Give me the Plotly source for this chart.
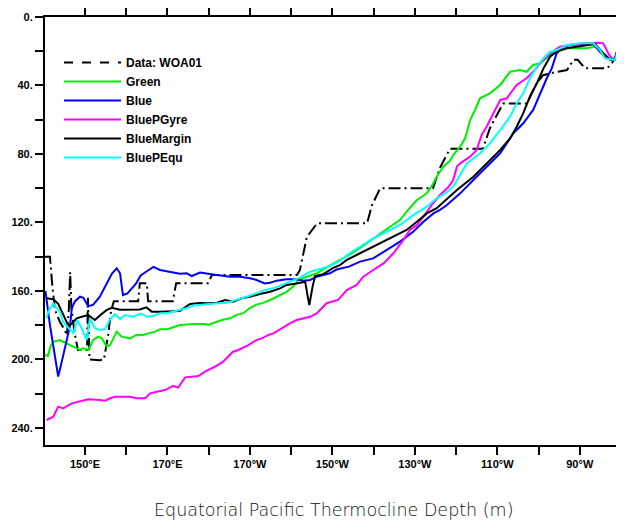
import plotly.graph_objects as go

# ---------------- data (longitude in degrees east, depth in m) ----------------
woa_lon = [140.3, 141.5, 142.0, 142.7, 143.9, 145.1, 145.6, 146.1, 146.4, 146.7, 147.5, 148.3,
           150.5, 150.7, 151.1, 153.6, 154.6, 155.6, 156.3, 157.0, 162.9, 163.3, 165.0, 165.3,
           171.3, 172.1, 179.8, 180.8, 201.4, 202.1, 203.8, 206.3, 218.4, 219.6, 221.6, 234.4,
           236.1, 238.5, 246.5, 248.2, 251.4, 257.2, 259.2, 261.1, 264.5, 266.9, 268.5, 269.5,
           271.3, 276.6, 277.8, 279.3]
woa_dep = [140, 140, 155, 171, 178, 183, 186, 170, 149, 170, 185, 194.5,
           194.5, 164, 200, 200.5, 200, 186, 172, 166, 166, 155.5, 155.5, 166,
           166, 155.5, 155.5, 150.7, 150.7, 148, 128.5, 120.5, 120.5, 110, 100, 100,
           88, 77, 77, 65, 50.5, 50.5, 40, 34, 32, 31, 25, 25,
           30, 30, 27, 20.6]

green_lon = [140.3, 141.0, 141.7, 142.3, 143.9, 145.6, 147.2, 148.8, 149.6, 150.8, 152.0, 153.2,
             154.1, 155.3, 156.1, 157.7, 158.9, 160.9, 162.5, 164.1, 165.4, 167.0, 168.2, 170.2,
             173.0, 176.3, 179.1, 179.9, 182.0, 183.2, 185.2, 186.8, 188.4, 190.0, 191.6, 193.2,
             194.9, 196.5, 198.9, 200.5, 201.7, 203.8, 206.2, 208.6, 211.0, 213.5, 215.1, 218.3,
             221.6, 224.0, 226.4, 228.0, 230.5, 232.9, 234.5, 235.3, 236.9, 238.5, 239.3, 241.0,
             242.2, 243.4, 244.6, 245.8, 248.2, 250.7, 253.1, 255.5, 257.1, 258.7, 260.4, 262.8,
             264.4, 266.8, 271.7, 273.7, 275.7, 277.3, 278.5, 279.4]
green_dep = [197.4, 198.0, 192.0, 189.7, 188.7, 190.6, 192.6, 194.5, 193.5, 194.5, 188.7, 186.7,
             187.7, 192.6, 191.6, 183.8, 186.7, 187.7, 185.7, 185.7, 184.8, 183.8, 182.4, 182.2,
             179.9, 179.3, 179.3, 179.9, 178.0, 177.0, 176.0, 174.0, 173.0, 170.0, 168.0, 167.0,
             165.3, 163.4, 160.5, 157.5, 153.6, 151.7, 149.7, 146.3, 142.9, 139.5, 137.5, 132.2,
             126.3, 122.5, 118.6, 113.7, 106.9, 103.0, 97.1, 93.3, 87.4, 84.0, 80.6, 75.8,
             70.9, 60.2, 54.3, 47.5, 44.6, 39.7, 32.0, 31.0, 32.0, 28.0, 27.0, 22.2,
             19.3, 18.3, 18.3, 17.3, 21.2, 25.1, 25.1, 16.4]

blue_lon = [140.4, 141.5, 142.7, 143.5, 144.4, 145.6, 146.4, 146.8, 147.6, 148.8, 149.6, 150.8,
            152.0, 153.6, 155.3, 156.5, 157.7, 158.5, 159.2, 160.3, 162.4, 163.5, 165.0, 166.6,
            168.2, 170.2, 173.0, 174.7, 175.9, 177.9, 179.9, 182.0, 185.2, 187.6, 190.0, 191.6,
            193.6, 194.9, 196.5, 198.9, 201.3, 202.9, 204.6, 206.2, 209.4, 211.0, 214.0, 216.7,
            219.9, 223.2, 226.4, 229.6, 232.1, 234.5, 236.1, 237.7, 241.0, 244.2, 247.4, 250.7,
            253.9, 256.3, 258.7, 260.4, 262.0, 263.2, 264.4, 266.0, 267.6, 271.7, 273.3, 274.9,
            276.5, 278.5, 279.4]
blue_dep = [160.0, 180.0, 198.0, 210.0, 201.0, 188.0, 180.0, 170.0, 166.0, 163.4, 164.0, 169.0,
            168.0, 163.4, 155.0, 150.0, 146.8, 149.7, 162.4, 161.4, 155.6, 151.0, 148.5, 146.0,
            147.8, 148.8, 150.0, 149.7, 151.3, 149.3, 150.1, 150.7, 151.7, 151.7, 152.6, 153.6,
            155.6, 155.2, 154.0, 153.2, 153.2, 154.0, 153.6, 151.7, 149.7, 147.5, 145.8, 142.9,
            141.0, 136.1, 131.2, 125.4, 119.6, 114.7, 112.7, 110.0, 103.0, 95.2, 87.4, 79.6,
            67.9, 62.1, 54.3, 44.6, 35.8, 30.0, 21.2, 17.3, 16.4, 15.8, 15.8, 20.3,
            24.1, 25.1, 17.3]

gyre_lon = [140.7, 142.3, 143.5, 144.7, 146.8, 148.8, 150.8, 153.6, 154.9, 156.1, 157.3, 160.9,
            162.5, 164.6, 165.8, 167.4, 169.4, 171.0, 171.4, 172.6, 174.3, 177.5, 179.1, 181.5,
            183.5, 185.9, 187.2, 189.6, 191.6, 192.9, 194.5, 195.7, 197.7, 199.7, 201.3, 202.9,
            204.6, 206.2, 207.0, 208.6, 211.4, 213.5, 215.9, 217.5, 219.9, 222.4, 224.8, 227.2,
            228.8, 230.5, 232.1, 234.1, 236.1, 238.1, 239.3, 240.2, 241.0, 243.4, 245.0, 246.2,
            247.4, 249.0, 250.7, 252.3, 254.7, 257.1, 259.1, 260.7, 262.8, 265.2, 267.6, 270.9,
            274.9, 275.7, 276.9, 277.7, 278.5, 279.4]
gyre_dep = [235.4, 233.5, 227.6, 228.6, 225.7, 224.7, 223.3, 223.7, 224.1, 222.7, 221.8, 221.8,
            222.7, 222.7, 219.8, 218.9, 217.9, 215.9, 215.5, 216.5, 210.5, 209.7, 207.2, 204.3,
            201.3, 195.5, 194.5, 191.6, 188.7, 187.7, 185.7, 184.8, 181.8, 178.9, 177.0, 176.0,
            175.1, 173.1, 171.1, 167.2, 165.3, 159.5, 156.5, 151.7, 147.8, 143.9, 138.0, 130.3,
            124.4, 121.5, 116.6, 109.8, 104.0, 99.5, 95.2, 87.4, 85.5, 81.6, 77.7, 68.9,
            64.1, 56.2, 48.5, 47.5, 39.7, 35.8, 31.0, 26.1, 21.2, 17.3, 16.4, 15.4,
            15.0, 15.4, 21.2, 24.1, 24.7, 17.3]

margin_lon = [140.7, 142.3, 143.5, 144.7, 146.0, 146.8, 148.0, 149.2, 150.8, 152.4, 153.6, 155.3,
              156.5, 158.5, 160.9, 163.3, 164.9, 166.2, 168.2, 170.6, 173.0, 175.5, 177.9, 179.9,
              182.0, 184.0, 186.0, 188.0, 190.0, 192.4, 194.9, 197.3, 198.9, 201.3, 203.4, 204.0,
              204.4, 205.2, 205.8, 207.8, 210.2, 211.8, 213.5, 216.7, 219.9, 222.4, 225.6, 228.0,
              230.5, 232.9, 235.3, 237.7, 240.2, 244.2, 247.4, 250.7, 253.1, 254.7, 256.3, 257.9,
              259.6, 261.2, 262.8, 264.4, 266.8, 270.1, 272.5, 273.7, 275.7, 277.3, 278.5, 279.4]
margin_dep = [164.3, 164.9, 167.5, 174.1, 180.5, 179.0, 176.0, 175.1, 174.1, 177.0, 174.3, 171.1,
              169.9, 171.0, 171.1, 170.8, 169.6, 172.1, 172.1, 172.0, 171.7, 167.6, 167.0, 167.2,
              166.9, 165.3, 166.3, 164.3, 163.4, 161.8, 160.5, 158.5, 156.5, 155.6, 154.6, 163.0,
              168.2, 157.5, 151.3, 150.2, 146.5, 145.0, 141.9, 138.0, 134.2, 131.2, 127.3, 124.4,
              119.6, 114.7, 111.7, 106.5, 101.0, 93.3, 85.5, 77.7, 70.9, 64.1, 56.2, 46.5,
              38.7, 30.0, 23.2, 20.3, 18.3, 17.3, 16.4, 15.8, 21.2, 24.7, 24.7, 17.3]

equ_lon = [140.7, 141.1, 142.3, 143.1, 143.9, 144.7, 146.4, 147.2, 148.1, 149.0, 150.4, 151.2,
           152.4, 153.6, 154.9, 156.1, 157.3, 158.5, 159.7, 161.7, 163.6, 165.0, 166.6, 168.2,
           169.8, 171.4, 173.5, 174.8, 176.3, 178.7, 182.0, 184.4, 186.8, 189.2, 191.6, 193.6,
           195.7, 197.7, 199.7, 202.1, 204.6, 207.0, 209.4, 211.8, 213.9, 216.7, 219.9, 223.2,
           226.4, 229.6, 232.9, 235.3, 237.7, 239.3, 241.0, 242.6, 245.8, 248.2, 250.7, 253.1,
           254.7, 256.3, 257.9, 259.6, 261.2, 262.8, 264.4, 266.8, 270.1, 273.3, 274.9, 276.1,
           278.5, 279.7]
equ_dep = [176.0, 172.0, 167.2, 170.0, 172.0, 178.0, 182.8, 184.8, 177.0, 180.9, 188.7, 176.0,
           181.8, 182.8, 182.3, 176.5, 173.6, 176.5, 174.1, 175.1, 173.3, 175.1, 174.6, 173.1,
           173.0, 172.1, 171.1, 170.0, 168.5, 167.8, 167.2, 166.9, 165.3, 163.4, 161.4, 159.5,
           158.5, 156.5, 154.6, 152.2, 148.8, 147.0, 145.5, 142.5, 138.5, 134.2, 129.3, 125.4,
           121.5, 115.7, 110.8, 105.9, 102.5, 99.1, 92.5, 85.5, 79.6, 73.8, 66.0, 58.2,
           50.4, 44.6, 35.8, 29.0, 24.1, 20.3, 19.3, 16.4, 15.4, 15.4, 19.3, 24.1,
           25.1, 16.4]

x_tick_vals = [150, 160, 170, 180, 190, 200, 210, 220, 230, 240, 250, 260, 270]
x_tick_text = ["150\u00b0E", "", "170\u00b0E", "", "170\u00b0W", "", "150\u00b0W", "",
               "130\u00b0W", "", "110\u00b0W", "", "90\u00b0W"]
y_tick_vals = [0, 20, 40, 60, 80, 100, 120, 140, 160, 180, 200, 220, 240]
y_tick_text = ["0.", "", "40.", "", "80.", "", "120.", "", "160.", "", "200.", "", "240."]

series = [
    ("Green", green_lon, green_dep, "#00ee00"),
    ("Blue", blue_lon, blue_dep, "#0000ff"),
    ("BluePGyre", gyre_lon, gyre_dep, "#ff00ff"),
    ("BlueMargin", margin_lon, margin_dep, "#000000"),
    ("BluePEqu", equ_lon, equ_dep, "#00ffff"),
]

fig = go.Figure()
# legend sample for the observations (dashed, as in the original key)
fig.add_trace(go.Scatter(x=[None], y=[None], mode="lines", name="Data: WOA01",
                         line=dict(color="black", width=2, dash="dash")))
fig.add_trace(go.Scatter(x=woa_lon, y=woa_dep, mode="lines", showlegend=False,
                         line=dict(color="black", width=2, dash="12px,4px,2px,4px")))
for name, xs, ys, col in series:
    fig.add_trace(go.Scatter(x=xs, y=ys, mode="lines", name=name,
                             line=dict(color=col, width=2)))

# the page body has an 8px default margin, so the figure is 8px smaller than the window
PW, PH = 616, 514
ML, MT, MR, MB = 37, 9, 3, 77
plot_w = PW - ML - MR
plot_h = PH - MT - MB

tickfont = dict(family="Liberation Sans", size=11, color="black", weight="bold")
fig.update_layout(
    width=PW, height=PH,
    margin=dict(l=ML, r=MR, t=MT, b=MB, autoexpand=False),
    paper_bgcolor="white", plot_bgcolor="white",
    showlegend=True,
    legend=dict(x=(51 - ML) / plot_w, y=1 - (40 - MT) / plot_h, xanchor="left", yanchor="top",
                bgcolor="rgba(0,0,0,0)", borderwidth=0, itemwidth=57,
                font=dict(family="Liberation Sans", size=12, color="black", weight="bold")),
    xaxis=dict(range=[140.3, 280], tickvals=x_tick_vals, ticktext=x_tick_text,
               ticks="outside", ticklen=8, tickwidth=2, tickcolor="black", automargin=False,
               showline=True, linewidth=2, linecolor="black", mirror="allticks",
               showgrid=False, zeroline=False, tickfont=tickfont),
    yaxis=dict(range=[250, 0], tickvals=y_tick_vals, ticktext=y_tick_text,
               ticks="outside", ticklen=8, tickwidth=2, tickcolor="black", automargin=False,
               showline=True, linewidth=2, linecolor="black", mirror="allticks",
               showgrid=False, zeroline=False, tickfont=tickfont),
    annotations=[dict(text="Equatorial Pacific Thermocline Depth (m)", xref="paper", yref="paper",
                      x=0.5, y=-(502 - (PH - MB)) / plot_h, xanchor="center", yanchor="middle",
                      showarrow=False,
                      font=dict(family="DejaVu Sans", size=17.5, color="#111111", weight=200))],
)

fig.write_html("out.html")
